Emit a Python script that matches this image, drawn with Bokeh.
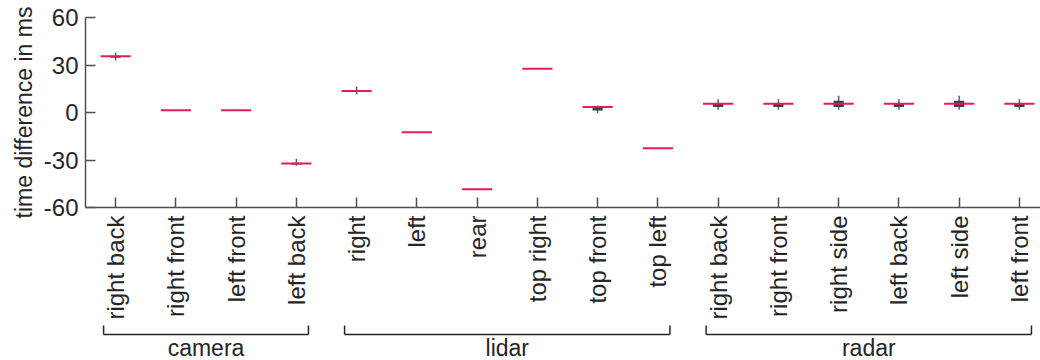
import numpy as np
from bokeh.plotting import figure
from bokeh.layouts import column
from bokeh.models import Range1d, FixedTicker, ColumnDataSource
from bokeh.embed import file_html
from bokeh.resources import INLINE
from bokeh.core.properties import value

# ---- data ----
groups = ["camera", "lidar", "radar"]
group_sizes = [4, 6, 6]
sensors = ["right back", "right front", "left front", "left back",
           "right", "left", "rear", "top right", "top front", "top left",
           "right back", "right front", "right side", "left back", "left side", "left front"]
medians = [35.6, 1.5, 1.5, -32.2, 13.6, -12.4, -48.4, 27.6, 3.4, -22.5, 5.5, 5.5, 5.5, 5.5, 5.5, 5.5]
q1 = [34.6, 1.5, 1.5, -32.8, 13.2, -12.4, -48.4, 27.6, 1.3, -22.5, 3.5, 3.5, 3.5, 3.5, 3.5, 3.5]
q3 = [35.8, 1.5, 1.5, -31.8, 14.2, -12.4, -48.4, 27.6, 3.4, -22.5, 5.6, 5.6, 7.4, 5.6, 7.4, 5.6]
whisk_lo = [32.8, 1.5, 1.5, -33.6, 11.4, -12.4, -48.4, 27.6, -0.3, -22.5, 1.7, 1.7, 1.7, 1.7, 1.7, 1.7]
whisk_hi = [37.9, 1.5, 1.5, -29.2, 16.4, -12.4, -48.4, 27.6, 4.4, -22.5, 8.4, 8.4, 10.6, 8.4, 10.6, 8.4]
y_ticks = [-60, -30, 0, 30, 60]
y_tick_labels = ["-60", "-30", "0", "30", "60"]
y_title = "time difference in ms"

FONT = "Liberation Sans"
TXT = "#262626"
AX = "#505050"
MED = "#e8185a"
BOX = "#3a414d"
WHK = "#566070"

LEFT = 85

xs = list(range(1, len(sensors) + 1))
src = ColumnDataSource(dict(
    x=xs, med=medians, q1=q1, q3=q3, lo=whisk_lo, hi=whisk_hi,
    mx0=[x - 0.25 for x in xs], mx1=[x + 0.25 for x in xs],
))

p = figure(width=1040, height=322, x_range=Range1d(0.5, 16.35), y_range=Range1d(-60, 60),
           output_backend="svg", toolbar_location=None,
           min_border_left=LEFT, min_border_right=0, min_border_top=17, min_border_bottom=115)
p.outline_line_color = None
p.grid.visible = False
p.background_fill_color = "white"
p.border_fill_color = "white"

p.segment(x0="x", y0="lo", x1="x", y1="hi", source=src, line_color=WHK, line_width=1.5)
p.vbar(x="x", width=0.17, bottom="q1", top="q3", source=src, fill_color=BOX, line_color=None)
p.segment(x0="mx0", y0="med", x1="mx1", y1="med", source=src, line_color=MED, line_width=2)

# axes
p.xaxis.ticker = FixedTicker(ticks=xs)
p.xaxis.major_label_overrides = {x: s for x, s in zip(xs, sensors)}
p.xaxis.major_label_orientation = np.pi / 2
p.yaxis.ticker = FixedTicker(ticks=y_ticks)
p.yaxis.major_label_overrides = {t: s for t, s in zip(y_ticks, y_tick_labels)}
p.yaxis.axis_label = y_title
for ax in (p.xaxis[0], p.yaxis[0]):
    ax.axis_line_color = AX
    ax.axis_line_width = 1.5
    ax.major_tick_line_color = AX
    ax.major_tick_line_width = 1.5
    ax.major_tick_in = 10
    ax.major_tick_out = 0
    ax.minor_tick_line_color = None
    ax.major_label_text_font = FONT
    ax.major_label_text_font_size = "24px"
    ax.major_label_text_color = TXT
    ax.major_label_standoff = 8
    ax.axis_label_text_font = FONT
    ax.axis_label_text_font_size = "23px"
    ax.axis_label_text_font_style = "normal"
    ax.axis_label_text_color = TXT
p.yaxis.major_label_standoff = 7
p.yaxis.axis_label_standoff = 4

# group brackets
p2 = figure(width=1040, height=38, x_range=p.x_range, y_range=Range1d(38, 0),
            output_backend="svg", toolbar_location=None,
            x_axis_location=None, y_axis_location=None,
            min_border_left=LEFT, min_border_right=0, min_border_top=0, min_border_bottom=0)
p2.outline_line_color = None
p2.grid.visible = False

starts, ends = [], []
i = 1
for n in group_sizes:
    starts.append(i - 0.2)
    ends.append(i + n - 1 + 0.2)
    i += n
mids = [(a + b) / 2 for a, b in zip(starts, ends)]
p2.segment(x0=starts, y0=[12] * 3, x1=ends, y1=[12] * 3, line_color=TXT, line_width=1.5)
p2.segment(x0=starts, y0=[3] * 3, x1=starts, y1=[12] * 3, line_color=TXT, line_width=1.5)
p2.segment(x0=ends, y0=[3] * 3, x1=ends, y1=[12] * 3, line_color=TXT, line_width=1.5)
p2.text(x=mids, y=[25] * 3, text=groups, text_font=value(FONT), text_font_size="23px",
        text_color=TXT, text_align="center", text_baseline="middle")

layout = column(p, p2, spacing=0)
open("out.html", "w").write(file_html(layout, INLINE))
